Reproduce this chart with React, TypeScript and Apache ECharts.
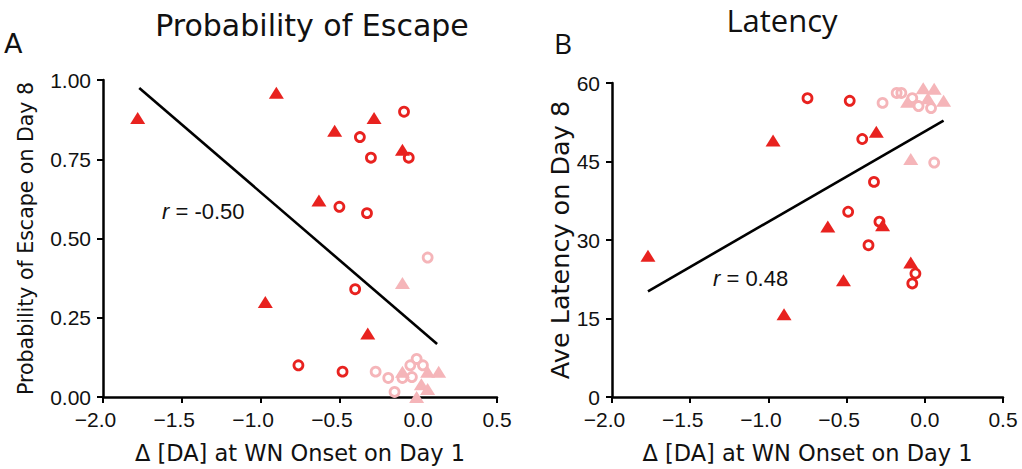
import React, { useEffect, useRef } from "react";
import * as echarts from "echarts";

const RED = "#e8221f";
const PINK = "#f5b5b9";

// x ticks shared by both panels
const xMin = -2.0;
const xMax = 0.5;
const xStep = 0.5;

// Panel A: Probability of Escape on Day 8
const aRedTriangles = [
  [-1.78, 0.88], [-0.9, 0.96], [-0.53, 0.84], [-0.28, 0.88],
  [-0.1, 0.78], [-0.63, 0.62], [-0.97, 0.3], [-0.32, 0.2],
];
const aRedCircles = [
  [-0.09, 0.9], [-0.37, 0.82], [-0.3, 0.755], [-0.06, 0.755], [-0.5, 0.6],
  [-0.325, 0.58], [-0.4, 0.34], [-0.76, 0.1], [-0.48, 0.08],
];
const aPinkCircles = [
  [0.06, 0.44], [-0.27, 0.08], [-0.19, 0.06], [-0.15, 0.016], [-0.1, 0.06],
  [-0.04, 0.063], [-0.01, 0.12], [-0.05, 0.1], [0.03, 0.1],
];
const aPinkTriangles = [
  [-0.1, 0.36], [-0.1, 0.08], [0.06, 0.08], [0.13, 0.08],
  [0.02, 0.04], [0.06, 0.025], [-0.01, 0.0],
];
const aFit = [[-1.77, 0.975], [0.12, 0.167]];

// Panel B: Ave Latency on Day 8
const bRedTriangles = [
  [-1.77, 27], [-0.97, 49], [-0.9, 15.8], [-0.62, 32.6],
  [-0.52, 22.3], [-0.31, 50.7], [-0.27, 32.8], [-0.09, 25.7],
];
const bRedCircles = [
  [-0.75, 57.1], [-0.48, 56.6], [-0.4, 49.3], [-0.325, 41.1], [-0.49, 35.4],
  [-0.29, 33.5], [-0.36, 29.0], [-0.06, 23.6], [-0.08, 21.7],
];
const bPinkCircles = [
  [-0.27, 56.2], [0.06, 44.8], [-0.18, 58.1], [-0.15, 58.1], [-0.08, 57.1],
  [-0.04, 55.6], [0.04, 55.2],
];
const bPinkTriangles = [
  [-0.09, 45.5], [-0.01, 59], [0.06, 58.9], [0.02, 57.1], [0.12, 56.6], [-0.11, 56.4],
];
const bFit = [[-1.77, 20.2], [0.12, 52.8]];

const rA = "-0.50";
const rB = "0.48";

const fmtX = (v: number) => {
  if (v < 0) return "{n|\u2212" + Math.abs(v).toFixed(1) + "}";
  return "{p|" + v.toFixed(1) + "}";
};

function App() {
  const ref = useRef<HTMLDivElement>(null);
  useEffect(() => {
    if (!ref.current) return;
    const chart = echarts.init(ref.current, null, { renderer: "svg" });
    const tickFont = "Liberation Sans";
    const nameFont = "DejaVu Sans";
    const xAxisBase = (gridIndex: number) => ({
      type: "value",
      gridIndex,
      min: xMin,
      max: xMax,
      interval: xStep,
      name: "\u0394 [DA] at WN Onset on Day 1",
      nameLocation: "middle",
      nameGap: 44,
      nameTextStyle: { fontFamily: nameFont, fontSize: 22.5, color: "#111" },
      axisLine: { show: true, onZero: false, lineStyle: { color: "#000", width: 2.5 } },
      axisTick: { show: true, length: 6, inside: false, lineStyle: { color: "#000", width: 2 } },
      splitLine: { show: false },
      axisLabel: {
        margin: 12,
        formatter: fmtX,
        rich: {
          n: { fontFamily: tickFont, fontSize: 21, color: "#111", padding: [0, 15, 0, 0] },
          p: { fontFamily: tickFont, fontSize: 21, color: "#111" },
        },
      },
    });
    const yAxisBase = (gridIndex: number, min: number, max: number, interval: number, name: string, gap: number, dec: number, nameSize: number) => ({
      type: "value",
      gridIndex,
      min,
      max,
      interval,
      name,
      nameLocation: "middle",
      nameGap: gap,
      nameTextStyle: { fontFamily: nameFont, fontSize: nameSize, color: "#111" },
      axisLine: { show: true, onZero: false, lineStyle: { color: "#000", width: 2.5 } },
      axisTick: { show: true, length: 6, inside: false, lineStyle: { color: "#000", width: 2 } },
      splitLine: { show: false },
      axisLabel: {
        margin: 12,
        fontFamily: tickFont,
        fontSize: 21,
        color: "#111",
        formatter: (v: number) => v.toFixed(dec),
      },
    });
    const tri = (data: number[][], color: string, xi: number, z: number) => ({
      type: "scatter",
      xAxisIndex: xi,
      yAxisIndex: xi,
      data,
      symbol: "triangle",
      symbolSize: [15, 12],
      clip: false,
      z,
      itemStyle: { color, opacity: 1 },
    });
    const circ = (data: number[][], color: string, xi: number, z: number) => ({
      type: "scatter",
      xAxisIndex: xi,
      yAxisIndex: xi,
      data,
      symbol: "circle",
      symbolSize: 9,
      clip: false,
      z,
      itemStyle: { color: "rgba(255,255,255,0)", borderColor: color, borderWidth: 2.8, opacity: 1 },
    });
    const fit = (data: number[][], xi: number) => ({
      type: "line",
      xAxisIndex: xi,
      yAxisIndex: xi,
      data,
      symbol: "none",
      z: 1,
      lineStyle: { color: "#000", width: 2.6 },
    });
    chart.setOption({
      animation: false,
      backgroundColor: "#fff",
      grid: [
        { left: 103, top: 80, width: 394, height: 318 },
        { left: 612, top: 83, width: 391, height: 315 },
      ],
      xAxis: [xAxisBase(0), xAxisBase(1)],
      yAxis: [
        yAxisBase(0, 0, 1, 0.25, "Probability of Escape on Day 8", 67, 2, 20.5),
        yAxisBase(1, 0, 60, 15, "Ave Latency on Day 8", 37, 0, 25.5),
      ],
      series: [
        fit(aFit, 0),
        circ(aPinkCircles, PINK, 0, 2),
        tri(aPinkTriangles, PINK, 0, 3),
        circ(aRedCircles, RED, 0, 4),
        tri(aRedTriangles, RED, 0, 5),
        fit(bFit, 1),
        circ(bPinkCircles, PINK, 1, 2),
        tri(bPinkTriangles, PINK, 1, 3),
        circ(bRedCircles, RED, 1, 4),
        tri(bRedTriangles, RED, 1, 5),
      ],
      graphic: [
        { type: "text", left: 4, top: 30, style: { text: "A", fontFamily: nameFont, fontSize: 27, fill: "#111" } },
        { type: "text", x: 312, y: 25, style: { text: "Probability of Escape", fontFamily: nameFont, fontSize: 30, fill: "#111", align: "center", verticalAlign: "middle" } },
        { type: "text", x: 554, y: 43, style: { text: "B", fontFamily: "Open Sans", fontSize: 28, fill: "#111", align: "left", verticalAlign: "middle" } },
        { type: "text", x: 782, y: 20, style: { text: "Latency", fontFamily: "Open Sans", fontSize: 31, fill: "#111", align: "center", verticalAlign: "middle" } },
        {
          type: "text", x: 162, y: 211,
          style: {
            text: "{i|r} = " + rA, fontFamily: tickFont, fontSize: 22, fill: "#111", align: "left", verticalAlign: "middle",
            rich: { i: { fontStyle: "italic", fontFamily: tickFont, fontSize: 22, fill: "#111" } },
          },
        },
        {
          type: "text", x: 713, y: 278,
          style: {
            text: "{i|r} = " + rB, fontFamily: tickFont, fontSize: 22, fill: "#111", align: "left", verticalAlign: "middle",
            rich: { i: { fontStyle: "italic", fontFamily: tickFont, fontSize: 22, fill: "#111" } },
          },
        },
      ],
    });
    return () => chart.dispose();
  }, []);
  return <div ref={ref} style={{ position: "fixed", left: 0, top: 0, width: 1022, height: 469, background: "#fff" }} />;
}

export default App;
